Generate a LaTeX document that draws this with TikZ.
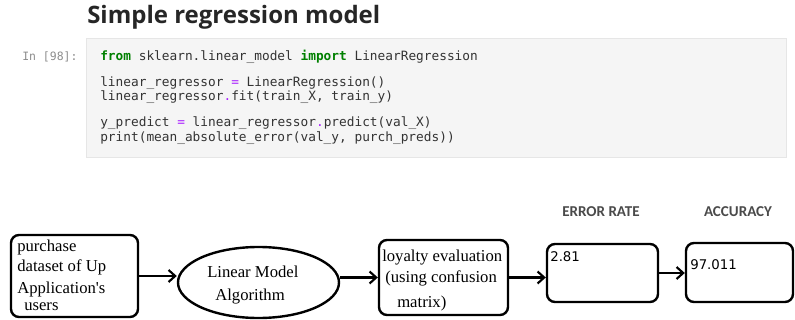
\documentclass[tikz,border=0pt]{standalone}
\usepackage{fontspec}
\setmainfont{Liberation Serif}
\setmonofont{DejaVu Sans Mono}
\newfontfamily\titlefont{Open Sans}
\newfontfamily\headfont{Carlito}
\newfontfamily\numfont{DejaVu Sans}
\usetikzlibrary{arrows.meta,shapes.geometric}

\definecolor{codebg}{HTML}{F5F5F5}
\definecolor{codeframe}{HTML}{E6E6E6}
\definecolor{codetext}{HTML}{333333}
\definecolor{kwgreen}{HTML}{008000}
\definecolor{oppurple}{HTML}{AA22FF}
\definecolor{headgray}{HTML}{4A4A4A}
\newcommand{\kwd}[1]{\textcolor{kwgreen}{\bfseries #1}}
\newcommand{\opr}[1]{\textcolor{oppurple}{#1}}

\tikzset{
  block/.style={draw, line width=1.8pt, rounded corners=6pt, inner sep=0pt},
  flow/.style={line width=1.6pt, -{Straight Barb[length=5pt,width=9pt]}},
  boxtext/.style={font=\fontsize{12.5}{15}\selectfont, inner sep=0pt, anchor=base west},
  codeline/.style={font=\ttfamily\fontsize{9.6}{11}\selectfont, text=codetext, inner sep=0pt, anchor=base west},
  headtext/.style={font=\headfont\bfseries\fontsize{11.3}{13}\selectfont, text=headgray, inner sep=0pt, anchor=base},
  numtext/.style={font=\numfont\fontsize{10}{12}\selectfont, inner sep=0pt, anchor=base west},
}

\begin{document}
\begin{tikzpicture}[x=0.75pt,y=0.75pt,yscale=-1]
\useasboundingbox (0,0) rectangle (795,320);

% Title
\node[font=\titlefont\bfseries\fontsize{18}{21}\selectfont, text=black!85, inner sep=0pt, anchor=base west] (title) at (87,24) {Simple regression model};

%Shape: Code cell
\draw[fill=codebg, draw=codeframe] (86,38) rectangle (786,157);
% Prompt
\node[font=\ttfamily\fontsize{8.6}{10}\selectfont, text=black!45, inner sep=0pt, anchor=base west] (prompt) at (22,61) {In [98]:};
% Code lines
\node[codeline] (code1) at (100,61) {\kwd{from} sklearn.linear\_model \kwd{import} LinearRegression};
\node[codeline] (code2) at (100,87) {linear\_regressor \opr{=} LinearRegression()};
\node[codeline] (code3) at (100,101) {linear\_regressor\opr{.}fit(train\_X, train\_y)};
\node[codeline] (code4) at (100,127) {y\_predict \opr{=} linear\_regressor\opr{.}predict(val\_X)};
\node[codeline] (code5) at (100,141.5) {print(mean\_absolute\_error(val\_y, purch\_preds))};

%Shape: Rounded boxes
\node[block, minimum width=95.25pt, minimum height=61.5pt] (purchase) at (74.5,276) {};
\node[block, ellipse, rounded corners=0pt, minimum width=120.75pt, minimum height=53.25pt] (linear) at (258.5,282.5) {};
\node[block, minimum width=96.75pt, minimum height=56.25pt] (loyalty) at (443.5,277.5) {};
\node[block, minimum width=83.25pt, minimum height=43.5pt] (error) at (602.5,273) {};
\node[block, minimum width=80.25pt, minimum height=44.25pt] (accuracy) at (739.5,272.5) {};

% Text Node
\node[boxtext] (purchase1) at (17,252) {purchase};
\node[boxtext] (purchase2) at (17,272) {dataset of Up};
\node[boxtext] (purchase3) at (17,293) {Application\textquotesingle s};
\node[boxtext] (purchase4) at (24,310) {users};
% Text Node
\node[boxtext] (linear1) at (207,277) {Linear Model};
\node[boxtext] (linear2) at (215,300) {Algorithm};
% Text Node
\node[boxtext] (loyalty1) at (382,261) {loyalty evaluation};
\node[boxtext] (loyalty2) at (385,282) {(using confusion};
\node[boxtext] (loyalty3) at (397,307) {matrix)};
% Text Node
\node[numtext] (errorval) at (550,262) {2.81};
\node[numtext] (accval) at (690,269) {97.011};
% Text Node
\node[headtext] (errorhead) at (601,217) {ERROR RATE};
\node[headtext] (acchead) at (738,217) {ACCURACY};

%Arrows
\draw[flow] (purchase.east) -- (purchase.east -| linear.west);
\draw[flow] (linear.east |- loyalty.west) -- (loyalty.west);
\draw[flow] (loyalty.east) -- (loyalty.east -| error.west);
\draw[flow] (error.east) -- (error.east -| accuracy.west);

\end{tikzpicture}
\end{document}
